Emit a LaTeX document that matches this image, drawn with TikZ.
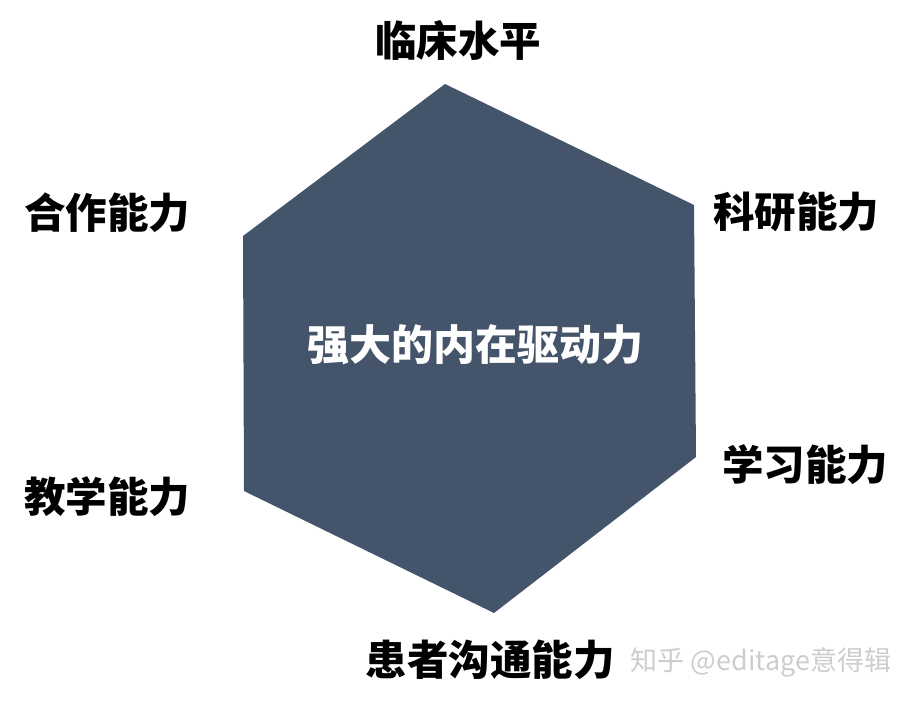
\documentclass[tikz,border=0pt]{standalone}
\usepackage{fontspec}
\newfontfamily\cjk{Noto Sans CJK SC}
\usepackage{tikz}
\usetikzlibrary{positioning}
\definecolor{hexfill}{RGB}{68,84,106}
\definecolor{markgray}{RGB}{205,205,205}
\tikzstyle{skill} = [font=\cjk\bfseries\fontsize{41.5}{41.5}\selectfont, text=black, inner sep=0pt]
\tikzstyle{core} = [font=\cjk\bfseries\fontsize{42}{42}\selectfont, text=white, inner sep=0pt]
\tikzstyle{watermark} = [font=\cjk\fontsize{27}{27}\selectfont, text=markgray, inner sep=0pt]

\begin{document}
\begin{tikzpicture}[x=1pt, y=-1pt]
                                \useasboundingbox (0,0) rectangle (916,710);
                                % hexagon corners
                                \coordinate (top) at (445,84);
                                \coordinate (upright) at (694,205);
                                \coordinate (lowright) at (696,457);
                                \coordinate (bottom) at (494,613);
                                \coordinate (lowleft) at (244,491);
                                \coordinate (upleft) at (243,236);
                                \fill [hexfill] (top) -- (upright) -- (lowright) -- (bottom) -- (lowleft) -- (upleft) -- cycle;
                                \node (drive) [core] at (475,345) {强大的内在驱动力};
                                \node (clinic) [skill] at (458,40) {临床水平};
                                \node (research) [skill] at (796,212) {科研能力};
                                \node (study) [skill] at (805,465) {学习能力};
                                \node (patient) [skill] at (490,660) {患者沟通能力};
                                \node (teach) [skill] at (107,497) {教学能力};
                                \node (team) [skill] at (107,213) {合作能力};
                                \node (zhihu) [watermark] at (761,662) {知乎 @editage意得辑};
                            \end{tikzpicture}
\end{document}
